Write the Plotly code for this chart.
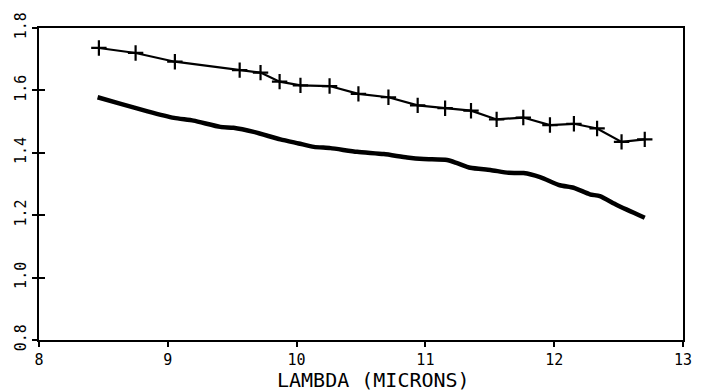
import plotly.graph_objects as go

# Upper series (with + markers)
upper_x = [8.465, 8.75, 9.055, 9.558, 9.72, 9.868, 10.03, 10.256, 10.48, 10.713,
           10.94, 11.153, 11.354, 11.553, 11.76, 11.967, 12.153, 12.333, 12.523, 12.703]
upper_y = [1.736, 1.72, 1.692, 1.665, 1.657, 1.628, 1.616, 1.614, 1.589, 1.578,
           1.552, 1.543, 1.535, 1.507, 1.513, 1.489, 1.493, 1.478, 1.435, 1.443]

# Lower series (thick line)
lower_x = [8.455, 8.635, 8.843, 9.049, 9.2, 9.408, 9.51, 9.667, 9.874, 10.016,
           10.134, 10.263, 10.47, 10.677, 10.858, 10.987, 11.168, 11.246, 11.349,
           11.504, 11.646, 11.762, 11.89, 12.044, 12.15, 12.277, 12.354, 12.486, 12.703]
lower_y = [1.578, 1.557, 1.533, 1.512, 1.503, 1.483, 1.48, 1.467, 1.443, 1.43,
           1.419, 1.415, 1.403, 1.396, 1.385, 1.38, 1.377, 1.367, 1.352,
           1.345, 1.336, 1.335, 1.322, 1.296, 1.288, 1.267, 1.261, 1.233, 1.192]

x_ticks = [8, 9, 10, 11, 12, 13]
x_tick_labels = ["8", "9", "10", "11", "12", "13"]
y_ticks = [0.8, 1.0, 1.2, 1.4, 1.6, 1.8]
y_tick_labels = ["0.8", "1.0", "1.2", "1.4", "1.6", "1.8"]
x_title = "LAMBDA (MICRONS)"

FONT = "DejaVu Sans Mono"

fig = go.Figure()
fig.add_trace(go.Scatter(
    x=upper_x, y=upper_y, mode="lines+markers",
    line=dict(color="black", width=2.2),
    marker=dict(symbol="cross-thin", size=11, line=dict(color="black", width=2.2)),
    showlegend=False,
))
fig.add_trace(go.Scatter(
    x=lower_x, y=lower_y, mode="lines",
    line=dict(color="black", width=4.5, shape="spline", smoothing=0.6),
    showlegend=False,
))
# invisible trace on second y axis so its ticks render
fig.add_trace(go.Scatter(x=[8], y=[0.8], yaxis="y2", mode="markers",
                         marker=dict(opacity=0), showlegend=False, hoverinfo="skip"))

fig.update_layout(
    width=708, height=391,
    margin=dict(l=38, r=25, t=24, b=51),
    paper_bgcolor="white", plot_bgcolor="white",
    font=dict(family=FONT, color="black"),
    xaxis=dict(
        range=[8, 13], tickvals=x_ticks, ticktext=x_tick_labels,
        showgrid=False, zeroline=False,
        showline=True, linecolor="black", linewidth=2, mirror=True,
        ticks="outside", ticklen=5, tickwidth=2, tickcolor="black",
        tickfont=dict(family=FONT, size=15, color="black"),
    ),
    yaxis=dict(
        range=[0.8, 1.8], tickvals=y_ticks, ticktext=y_tick_labels,
        showgrid=False, zeroline=False,
        showline=True, linecolor="black", linewidth=2, mirror=True,
        ticks="outside", ticklen=5, tickwidth=2, tickcolor="black",
        tickangle=-90,
        tickfont=dict(family=FONT, size=15, color="black"),
    ),
    yaxis2=dict(
        range=[0.8, 1.8], tickvals=y_ticks, overlaying="y", side="left",
        showgrid=False, zeroline=False, showline=False, showticklabels=False,
        ticks="inside", ticklen=6, tickwidth=2, tickcolor="black",
    ),
    annotations=[dict(
        text=x_title, xref="x", yref="paper", x=10.6, y=0, yshift=-26,
        showarrow=False, yanchor="top", xanchor="center",
        font=dict(family=FONT, size=20, color="black"),
    )],
)

fig.write_html("out.html")
